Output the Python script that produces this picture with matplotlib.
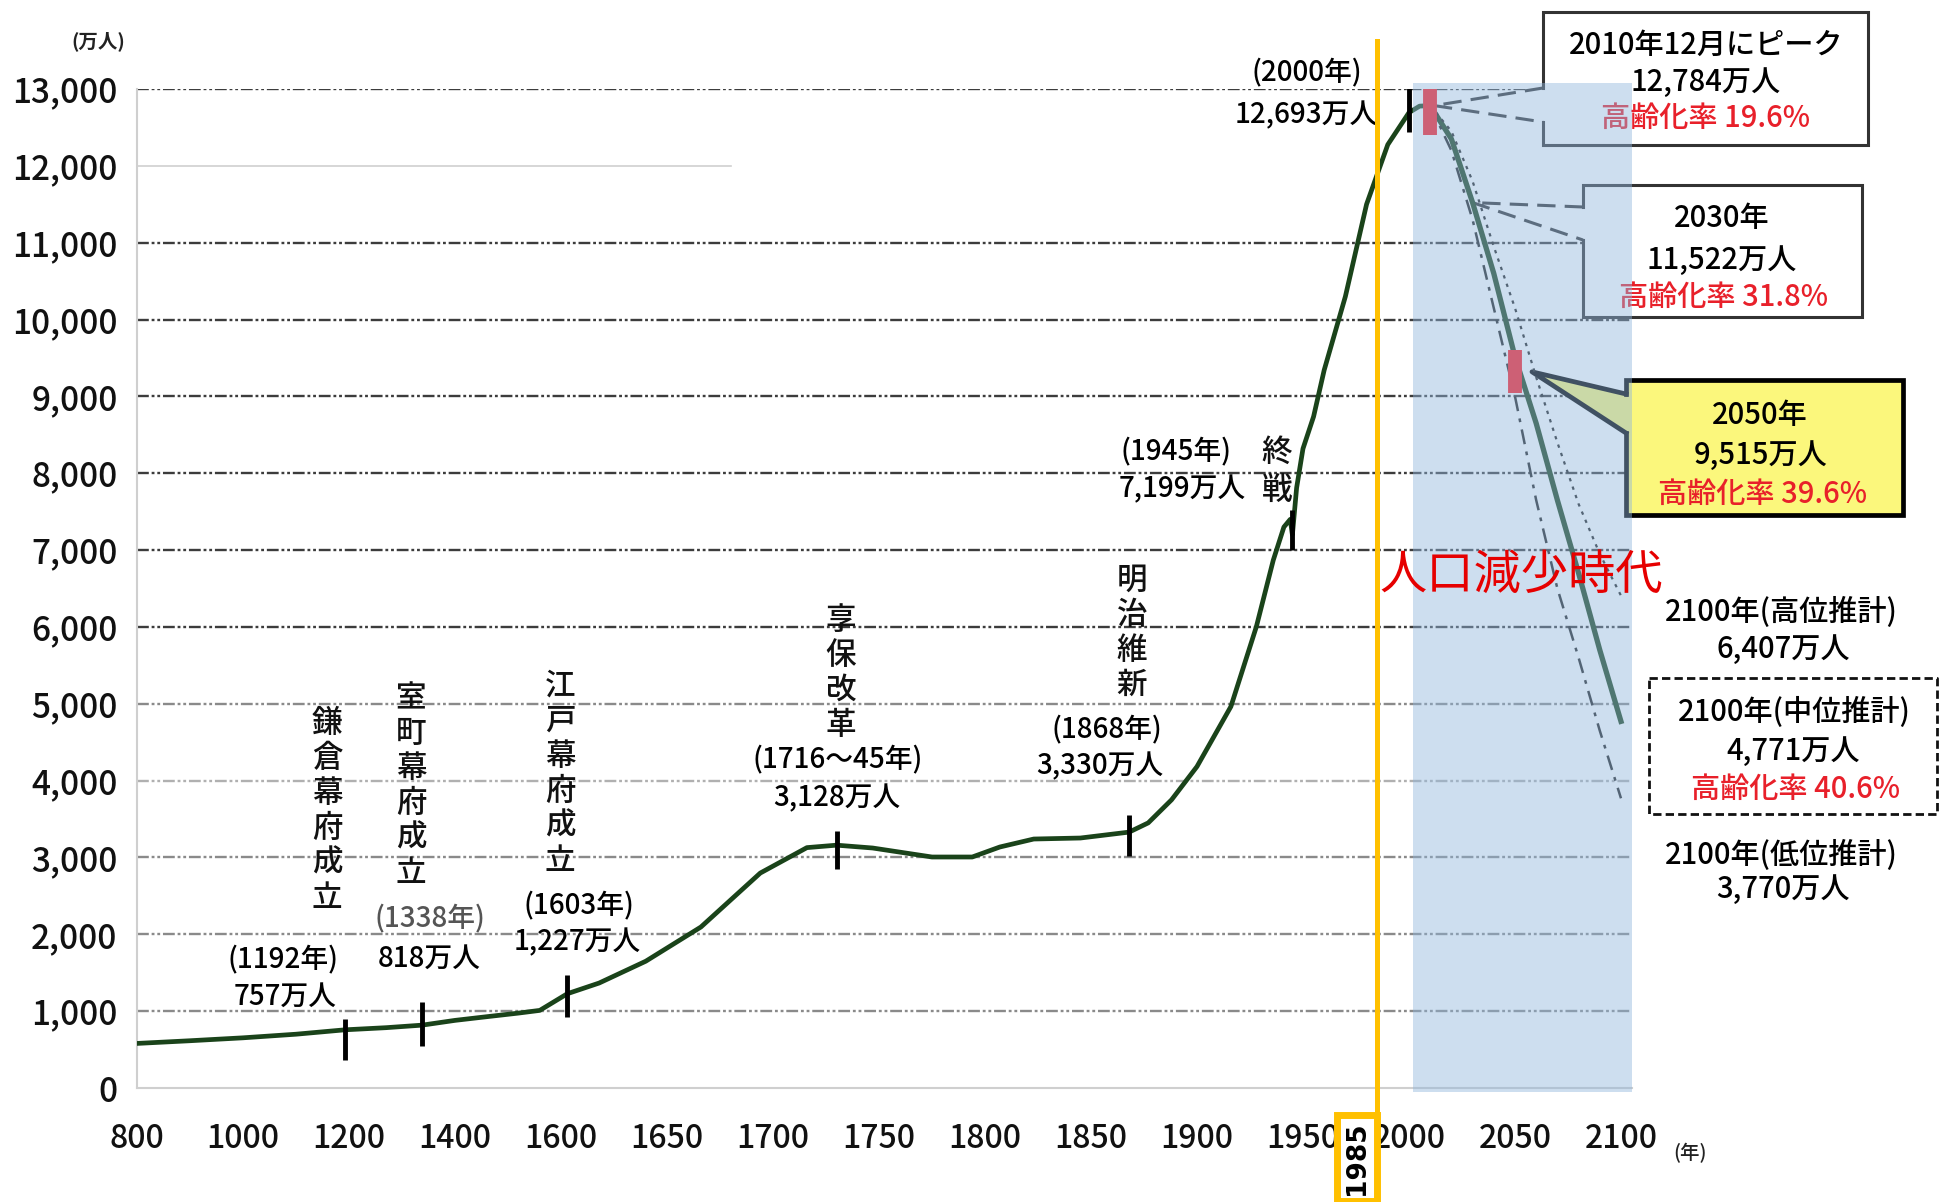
import numpy as np
import matplotlib
matplotlib.use("Agg")
import matplotlib.pyplot as plt
import matplotlib.patches as mpatches
from matplotlib.lines import Line2D
from matplotlib.transforms import IdentityTransform

plt.rcParams['font.family'] = ['Noto Sans CJK JP', 'DejaVu Sans']
plt.rcParams['font.weight'] = 'medium'

W, H = 1940, 1202

# 日本の総人口（万人）
hist_years = [800, 900, 1000, 1100, 1192, 1270, 1338, 1400, 1450, 1520, 1560, 1603,
              1618, 1640, 1666, 1694, 1716, 1730, 1747, 1775, 1794, 1807, 1823, 1845,
              1868, 1877, 1888, 1900, 1916, 1928, 1936, 1941, 1944, 1945, 1947, 1950,
              1955, 1960, 1970, 1980, 1990, 2000, 2005, 2010]
hist_pop = [580, 615, 653, 700, 757, 785, 818, 880, 920, 975, 1010, 1227,
            1366, 1650, 2095, 2797, 3128, 3160, 3123, 3006, 3006, 3136, 3240, 3253,
            3330, 3450, 3750, 4183, 4964, 6002, 6870, 7300, 7400, 7199, 7810, 8320,
            8737, 9342, 10300, 11500, 12276, 12693, 12777, 12784]

# 将来推計
proj_years = [2010, 2020, 2030, 2040, 2050, 2060, 2070, 2080, 2090, 2100]
proj_mid = [12784, 12350, 11522, 10600, 9515, 8650, 7650, 6700, 5700, 4771]
proj_high = [12784, 12450, 11800, 10950, 10150, 9250, 8400, 7600, 6950, 6407]
proj_low = [12784, 12200, 11300, 10150, 9000, 7650, 6500, 5600, 4650, 3770]

# 出来事の目盛り（年, 下端, 上端）
event_years = [1192, 1338, 1603, 1730, 1868, 1945, 2000]
event_lo = [364, 547, 924, 2850, 3019, 7000, 12440]
event_hi = [898, 1119, 1470, 3344, 3552, 7521, 13012]
key_years = [2010, 2050]
key_lo = [12401, 9044]
key_hi = [13012, 9603]

tick_years = [800, 1000, 1200, 1400, 1600, 1650, 1700, 1750, 1800, 1850, 1900,
              1950, 2000, 2050, 2100]
y_ticks = list(range(0, 13001, 1000))

CURVE = '#1a431a'
RED = '#e8202a'

# 目盛り間隔が不揃いな年軸
_ty = np.array(tick_years, float)
_ti = np.arange(len(_ty), dtype=float)


def year_to_slot(x):
    x = np.asarray(x, float)
    s = np.interp(x, _ty, _ti)
    s = np.where(x > _ty[-1], _ti[-1] + (x - _ty[-1]) / 50.0, s)
    s = np.where(x < _ty[0], (x - _ty[0]) / 200.0, s)
    return s


def slot_to_year(s):
    s = np.asarray(s, float)
    x = np.interp(s, _ti, _ty)
    x = np.where(s > _ti[-1], _ty[-1] + (s - _ti[-1]) * 50.0, x)
    x = np.where(s < 0, _ty[0] + s * 200.0, x)
    return x


fig = plt.figure(figsize=(W / 100, H / 100), dpi=100)
ax = fig.add_axes([137 / W, 1 - 1088 / H, (1632 - 137) / W, (1088 - 89) / H])
ax.set_xscale('function', functions=(year_to_slot, slot_to_year))
XMAX = 2105.2
ax.set_xlim(800, XMAX)
ax.set_ylim(0, 13000)


def atext(px, py, s, z=4, **kw):
    kw.setdefault('ha', 'center')
    kw.setdefault('va', 'center')
    return ax.text(px / W, 1 - py / H, s, transform=fig.transFigure, zorder=z, **kw)


def vtext(px, py_top, s, pitch=35, size=22, z=4):
    for i, ch in enumerate(s):
        atext(px, py_top + pitch * (i + 0.5), ch, z=z, fontsize=size, color='#111')


def disp(px, py):
    return (px, H - py)


def pix_of(x, y):
    d = ax.transData.transform((x, y))
    return d[0], H - d[1]


def add_line(pts, z=2, **kw):
    xs = [p[0] for p in pts]
    ys = [H - p[1] for p in pts]
    ln = Line2D(xs, ys, transform=IdentityTransform(), zorder=z, **kw)
    ax.add_line(ln)
    ln.set_clip_on(False)


def callout(L, T, R, B, w1, w2, tip, fc, ec, lw, wedge_ls='-', box_ls='-'):
    verts = [disp(L, T), disp(R, T), disp(R, B), disp(L, B), disp(L, w2),
             disp(*tip), disp(L, w1)]
    poly = mpatches.Polygon(verts, closed=True, fc=fc, ec='none',
                            transform=IdentityTransform(), zorder=2)
    ax.add_patch(poly)
    poly.set_clip_on(False)
    add_line([(L, w1), (L, T), (R, T), (R, B), (L, B), (L, w2)],
             color=ec, lw=lw, ls=box_ls, solid_joinstyle='miter')
    add_line([(L, w1), tip, (L, w2)], color=ec, lw=lw, ls=wedge_ls)


# 目盛り線
for v in y_ticks[1:]:
    if v == 12000:
        ax.plot([800, 1680], [v, v], color='#d0d0d0', lw=1.2, zorder=1)
        continue
    c = '#3c3c3c' if v >= 6000 else ('#b0b0b0' if v == 4000 else '#8a8a8a')
    ax.plot([800, XMAX], [v, v], color=c, lw=1.7,
            ls=(0, (5, 1.2, 1.2, 1.2, 1.2, 1.2)), zorder=1)

# 人口の推移
ax.plot(hist_years, hist_pop, color=CURVE, lw=3.4, zorder=3, solid_capstyle='round')
ax.plot(proj_years, proj_mid, color=CURVE, lw=3.8, zorder=3)
ax.plot(proj_years, proj_high, color='#222', lw=1.6, ls=(0, (1.5, 2.5)), zorder=3)
ax.plot(proj_years, proj_low, color='#222', lw=1.8, ls=(0, (6, 3, 1.5, 3)), zorder=3)

ax.vlines(event_years, event_lo, event_hi, colors='k', lw=3.5, zorder=4)
ax.vlines(key_years, key_lo, key_hi, colors='#ff1a22', lw=10, zorder=4)

# 吹き出し
tip_peak = pix_of(2010, 12784)
callout(1543, 12, 1868, 145, 88, 122, (tip_peak[0] + 4, tip_peak[1]),
        'white', '#333', 2.2, wedge_ls=(0, (6, 3)))
tip_2030 = pix_of(2030, 11522)
callout(1583, 185, 1862, 317, 207, 240, tip_2030,
        'white', '#333', 2.2, wedge_ls=(0, (6, 3)))
tip_2050 = pix_of(2050, 9515)
callout(1626, 380, 1903, 515, 394, 433, (tip_2050[0] + 17, tip_2050[1] + 15),
        '#fbf77c', 'black', 3.4)

# 破線枠（中位推計）
add_line([(1649, 678), (1937, 678), (1937, 814), (1649, 814), (1649, 678)],
         color='#111', lw=2, ls=(0, (3, 1.5)))

# 人口減少時代の網掛け
shade = mpatches.Rectangle((2002, -55), XMAX - 2002, 13130, fc='#90b6dc',
                           ec='none', alpha=0.45, zorder=5)
ax.add_patch(shade)
shade.set_clip_on(False)

# 軸
for s in ('top', 'right'):
    ax.spines[s].set_visible(False)
for s in ('left', 'bottom'):
    ax.spines[s].set_color('#cfcfcf')
    ax.spines[s].set_linewidth(1.5)
ax.set_xticks(tick_years, labels=[str(y) for y in tick_years])
ax.set_yticks(y_ticks, labels=[f"{v:,}" for v in y_ticks])
ax.tick_params(axis='x', length=0, pad=25, labelsize=23, labelcolor='#111')
ax.tick_params(axis='y', length=0, pad=14, labelsize=24, labelcolor='#111')
ax.set_xlim(800, XMAX)
ax.set_ylim(0, 13000)

atext(98, 41, '(万人)', fontsize=14, fontweight='bold', color='#222')
atext(1690, 1153, '(年)', fontsize=14, color='#222')

# 出来事の注記
fs = 20
vtext(327, 706, '鎌倉幕府成立')
atext(283, 960, '(1192年)', fontsize=fs)
atext(285, 996, '757万人', fontsize=fs)
vtext(411, 681, '室町幕府成立')
atext(430, 919, '(1338年)', fontsize=fs, color='#555')
atext(429, 958, '818万人', fontsize=fs)
vtext(560, 669, '江戸幕府成立')
atext(579, 906, '(1603年)', fontsize=fs)
atext(577, 942, '1,227万人', fontsize=fs)
vtext(841, 603, '享保改革')
atext(838, 760, '(1716〜45年)', fontsize=fs)
atext(837, 798, '3,128万人', fontsize=fs)
vtext(1132, 563, '明治維新')
atext(1107, 730, '(1868年)', fontsize=fs)
atext(1100, 766, '3,330万人', fontsize=fs)
atext(1176, 452, '(1945年)', fontsize=fs)
atext(1182, 489, '7,199万人', fontsize=fs)
vtext(1277, 433, '終戦', pitch=38)
atext(1307, 73, '(2000年)', fontsize=fs)
atext(1306, 115, '12,693万人', fontsize=fs)

bs = 21
atext(1706, 45, '2010年12月にピーク', fontsize=bs, z=3)
atext(1706, 82, '12,784万人', fontsize=bs, z=3)
atext(1706, 118, '高齢化率 19.6%', fontsize=bs, color=RED, z=3)
atext(1722, 218, '2030年', fontsize=bs, z=3)
atext(1722, 260, '11,522万人', fontsize=bs, z=3)
atext(1724, 297, '高齢化率 31.8%', fontsize=bs, color=RED, z=3)
atext(1760, 415, '2050年', fontsize=bs, z=3)
atext(1761, 455, '9,515万人', fontsize=bs, z=3)
atext(1763, 494, '高齢化率 39.6%', fontsize=bs, color=RED, z=3)
atext(1781, 612, '2100年(高位推計)', fontsize=bs)
atext(1783, 649, '6,407万人', fontsize=bs)
atext(1794, 712, '2100年(中位推計)', fontsize=bs)
atext(1793, 751, '4,771万人', fontsize=bs)
atext(1796, 789, '高齢化率 40.6%', fontsize=bs, color=RED)
atext(1781, 855, '2100年(低位推計)', fontsize=bs)
atext(1783, 889, '3,770万人', fontsize=bs)

atext(1521, 576, '人口減少時代', fontsize=34, fontweight='normal', color='#e60000', z=7)

# 1985年の基準線
ax.axvline(1985, ymin=-0.024, ymax=1.048, color='#ffc000', lw=3.6,
           zorder=7, clip_on=False)
fig.text(1357 / W, 1 - 1158 / H, '1985', rotation=90, ha='center', va='center',
         fontsize=19, family='DejaVu Sans', fontweight='bold', color='black', zorder=8,
         bbox=dict(boxstyle='square,pad=0.25', fc='white', ec='#ffc000', lw=5))

fig.savefig('out.png', dpi=100)
